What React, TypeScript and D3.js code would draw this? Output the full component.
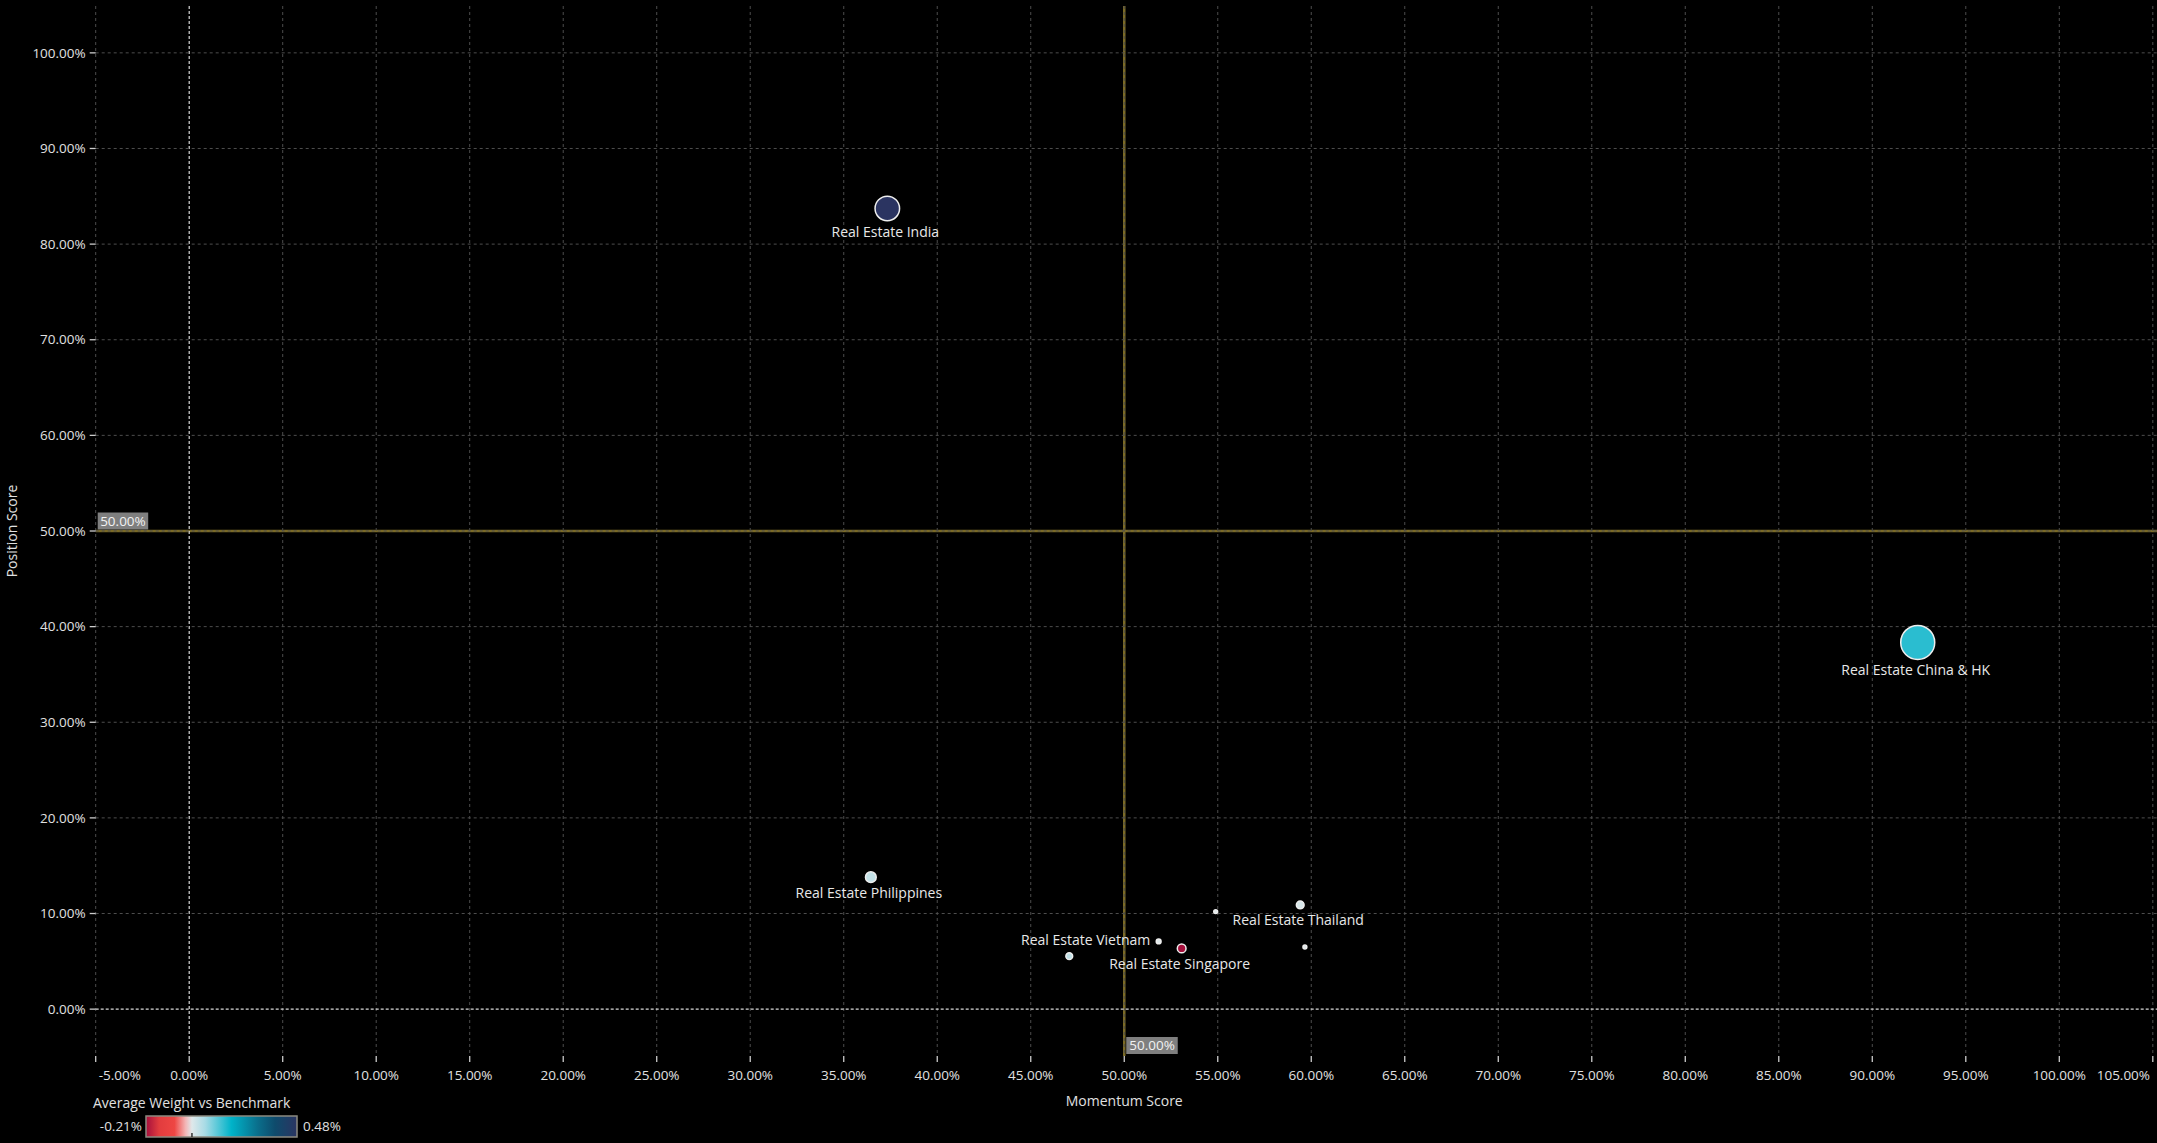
import React from "react";
import * as d3 from "d3";

const labels = [
  "Real Estate China & HK",
  "Real Estate India",
  "Real Estate Philippines",
  "Real Estate Thailand",
  "Real Estate Vietnam",
  "Real Estate Singapore",
  "",
  "",
  "",
];
const momentum = [92.43, 37.33, 36.45, 59.41, 51.84, 53.07, 47.06, 54.89, 59.66];
const position = [38.35, 83.73, 13.8, 10.9, 7.08, 6.35, 5.54, 10.2, 6.5];
const weights = [0.15, 0.48, 0.03, 0.01, 0.0, -0.21, 0.035, 0.0, 0.0];
const sizes = [100, 52, 10, 5.2, 2, 6.6, 4, 1.3, 1.3];
const labelSide = ["below", "below", "below", "below", "left", "below", "none", "none", "none"];

const xTicks = d3.range(-5, 106, 5);
const yTicks = d3.range(0, 101, 10);
const weightDomain = [-0.21, 0.48];
const colorStops = [-0.21, -0.15, -0.08, -0.03, 0, 0.06, 0.18, 0.3, 0.38, 0.48];
const colorRange = ["#a50f3c", "#e23c3e", "#ee4643", "#f3b4b4", "#dfe8ea", "#a8dbe5", "#00b3c9", "#0a6f8c", "#0e4b6c", "#2b3461"];
const threshold = 50;

const W = 2157;
const H = 1143;
const FONT = "'Open Sans', 'Noto Sans', sans-serif";

export default function App() {
  const x = d3.scaleLinear().domain([-5, 105]).range([95.7, 2152.8]);
  const y = d3.scaleLinear().domain([-4.9, 104.9]).range([1056, 6]);
  const r = d3.scaleSqrt().domain([0, 100]).range([0, 17]);
  const color = d3.scaleLinear<string>().domain(colorStops).range(colorRange).interpolate(d3.interpolateRgb);
  const fmt = (v: number) => v.toFixed(2) + "%";

  const plotL = x(-5);
  const plotR = W;
  const plotT = y(104.9);
  const plotB = y(-4.9);

  const legX0 = 146;
  const legX1 = 297;
  const legY0 = 1116;
  const legY1 = 1137;
  const legScale = d3.scaleLinear().domain(weightDomain).range([legX0, legX1]);

  const idx = d3.range(labels.length);
  const order = idx.slice().sort((a, b) => sizes[b] - sizes[a]);

  React.useEffect(() => {
    document.body.style.margin = "0";
    document.body.style.background = "#000";
  }, []);

  return (
    <svg width={W} height={H} style={{ display: "block", background: "#000", fontFamily: FONT }}>
      <defs>
        <linearGradient id="legGrad" x1="0" x2="1" y1="0" y2="0">
          {colorStops.map((s, i) => (
            <stop key={i} offset={(s - weightDomain[0]) / (weightDomain[1] - weightDomain[0])} stopColor={colorRange[i]} />
          ))}
        </linearGradient>
      </defs>
      <rect x={0} y={0} width={W} height={H} fill="#000" />

      {/* threshold lines */}
      <line x1={x(threshold)} x2={x(threshold)} y1={plotT} y2={plotB} stroke="#7a6a26" strokeWidth={2.5} />
      <line x1={plotL} x2={plotR} y1={y(threshold)} y2={y(threshold)} stroke="#7a6a26" strokeWidth={2.5} />

      {/* grid */}
      {xTicks.map((t) => (
        <line key={"gx" + t} x1={x(t)} x2={x(t)} y1={plotT} y2={plotB}
          stroke={t === 0 ? "#d8d8d8" : "#4d4d4d"} strokeWidth={t === 0 ? 1.2 : 1} strokeDasharray={t === 0 ? "3,2" : "3,3"} />
      ))}
      {yTicks.map((t) => (
        <line key={"gy" + t} x1={plotL} x2={plotR} y1={y(t)} y2={y(t)}
          stroke={t === 0 ? "#d8d8d8" : "#4d4d4d"} strokeWidth={t === 0 ? 1.2 : 1} strokeDasharray={t === 0 ? "3,2" : "3,3"} />
      ))}

      {/* x axis ticks */}
      {xTicks.map((t, k) => {
        const first = k === 0;
        const last = k === xTicks.length - 1;
        const tx = first ? plotL + 3 : last ? W - 7 : x(t);
        const anchor = first ? "start" : last ? "end" : "middle";
        return (
          <g key={"xt" + t}>
            <line x1={x(t)} x2={x(t)} y1={plotB} y2={plotB + 6} stroke="#cccccc" strokeWidth={1.3} />
            <text x={tx} y={plotB + 19} dy="0.35em" textAnchor={anchor} fill="#e0e0e0" fontSize={13.5}>{fmt(t)}</text>
          </g>
        );
      })}
      {/* y axis ticks */}
      {yTicks.map((t) => (
        <g key={"yt" + t}>
          <line x1={plotL - 6} x2={plotL} y1={y(t)} y2={y(t)} stroke="#cccccc" strokeWidth={1.3} />
          <text x={plotL - 10} y={y(t)} dy="0.35em" textAnchor="end" fill="#e0e0e0" fontSize={13.5}>{fmt(t)}</text>
        </g>
      ))}

      {/* axis titles */}
      <text x={(plotL + 2152.8) / 2} y={1101} dy="0.35em" textAnchor="middle" fill="#e0e0e0" fontSize={14}>Momentum Score</text>
      <text transform={`translate(12.5,${(plotT + plotB) / 2}) rotate(-90)`} dy="0.35em" textAnchor="middle" fill="#e0e0e0" fontSize={14}>Position Score</text>

      {/* threshold labels */}
      <rect x={plotL + 2} y={y(threshold) - 18.5} width={50.5} height={17} fill="#7f7f7f" />
      <text x={plotL + 27.25} y={y(threshold) - 10} dy="0.35em" textAnchor="middle" fill="#f2f2f2" fontSize={13.5}>{fmt(threshold)}</text>
      <rect x={x(threshold) + 2} y={plotB - 19} width={51.5} height={17} fill="#7f7f7f" />
      <text x={x(threshold) + 27.75} y={plotB - 10.5} dy="0.35em" textAnchor="middle" fill="#f2f2f2" fontSize={13.5}>{fmt(threshold)}</text>

      {/* points */}
      {order.map((i) => (
        <circle key={"c" + i} cx={x(momentum[i])} cy={y(position[i])} r={r(sizes[i])}
          fill={color(weights[i])} stroke="#eeeeee" strokeWidth={1.5} />
      ))}
      {idx.filter((i) => labelSide[i] !== "none").map((i) => {
        const cx = x(momentum[i]);
        const cy = y(position[i]);
        const rr = r(sizes[i]);
        if (labelSide[i] === "left") {
          return (
            <text key={"l" + i} x={cx - rr - 6} y={cy - 1} dy="0.35em" textAnchor="end" fill="#e8e8e8" fontSize={14}>{labels[i]}</text>
          );
        }
        return (
          <text key={"l" + i} x={cx - 2} y={cy + rr + 11} dy="0.35em" textAnchor="middle" fill="#e8e8e8" fontSize={14}>{labels[i]}</text>
        );
      })}

      {/* legend */}
      <text x={93} y={1103} dy="0.35em" fill="#e0e0e0" fontSize={14}>Average Weight vs Benchmark</text>
      <rect x={legX0} y={legY0} width={legX1 - legX0} height={legY1 - legY0} fill="url(#legGrad)" stroke="#8c8a80" strokeWidth={1.5} />
      <line x1={legScale(0)} x2={legScale(0)} y1={legY1 - 4} y2={legY1} stroke="#333" strokeWidth={1.5} />
      <text x={legX0 - 4} y={(legY0 + legY1) / 2} dy="0.35em" textAnchor="end" fill="#e0e0e0" fontSize={13.5}>{fmt(weightDomain[0])}</text>
      <text x={legX1 + 6} y={(legY0 + legY1) / 2} dy="0.35em" textAnchor="start" fill="#e0e0e0" fontSize={13.5}>{fmt(weightDomain[1])}</text>
    </svg>
  );
}
